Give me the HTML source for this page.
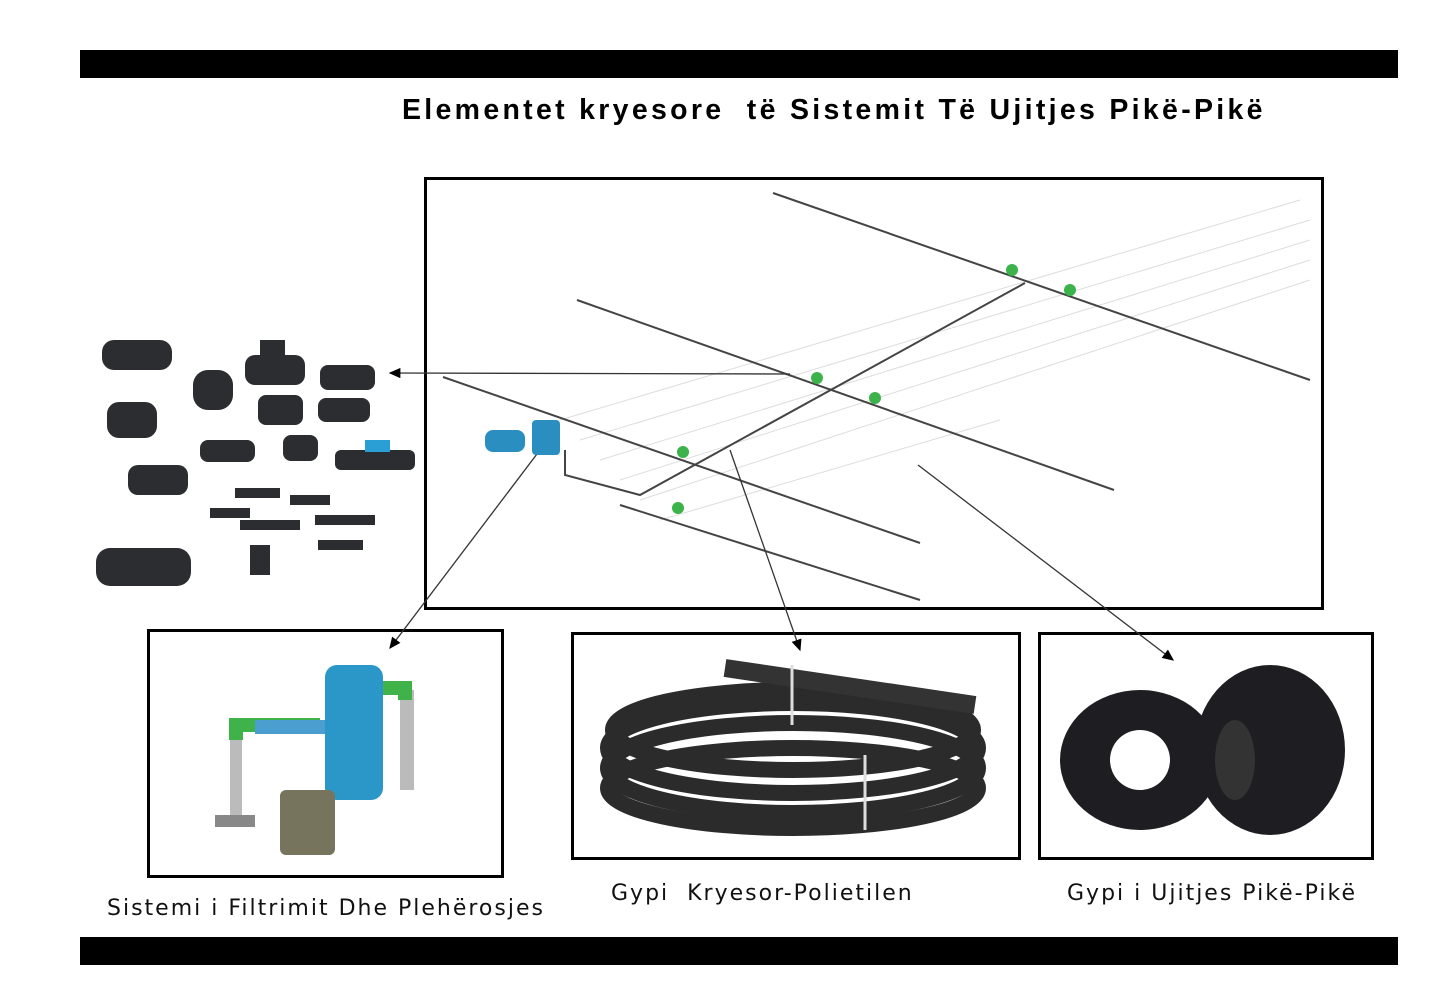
<!DOCTYPE html>
<html><head><meta charset="utf-8"><style>
body{margin:0;background:#fff;width:1451px;height:999px;overflow:hidden;position:relative;font-family:"Liberation Sans",sans-serif}
.bar{position:absolute;left:80px;width:1318px;height:28px;background:#000}
.box{position:absolute;border:3px solid #000;box-sizing:border-box;background:#fff}
.lbl{position:absolute;font-size:22px;color:#111;letter-spacing:2px;font-family:"DejaVu Sans","Liberation Sans",sans-serif}
</style></head><body>
<div class="bar" style="top:50px"></div>
<div class="bar" style="top:937px"></div>
<div style="position:absolute;left:402px;top:94px;font-size:28.5px;font-weight:bold;letter-spacing:3.3px;white-space:nowrap">Elementet kryesore&nbsp; të Sistemit Të Ujitjes Pikë-Pikë</div>
<div class="box" style="left:424px;top:177px;width:900px;height:433px"></div>
<div class="box" style="left:147px;top:629px;width:357px;height:249px"></div>
<div class="box" style="left:571px;top:632px;width:450px;height:228px"></div>
<div class="box" style="left:1038px;top:632px;width:336px;height:228px"></div>
<div class="lbl" style="left:107px;top:896px">Sistemi i Filtrimit Dhe Plehërosjes</div>
<div class="lbl" style="left:611px;top:881px">Gypi&nbsp; Kryesor-Polietilen</div>
<div class="lbl" style="left:1067px;top:881px">Gypi i Ujitjes Pikë-Pikë</div>
<svg width="1451" height="999" style="position:absolute;left:0;top:0">
<defs><marker id="a" markerWidth="10" markerHeight="10" refX="8" refY="4" orient="auto"><path d="M0,0 L9,4 L0,8 Z" fill="#000"/></marker></defs>
<g stroke="#ddd" stroke-width="1">
<path d="M560,420 L1300,200 M580,440 L1310,220 M600,460 L1310,240 M620,480 L1310,260 M640,500 L1310,280 M660,520 L1000,420"/>
</g>
<g stroke="#444" stroke-width="2" fill="none">
<path d="M773,193 L1310,380"/>
<path d="M577,300 L1114,490"/>
<path d="M443,377 L920,543"/>
<path d="M620,505 L920,600"/>
<path d="M565,450 L565,475 L640,495 L1025,283"/>
</g>
<g stroke="#333" stroke-width="1.3" fill="none">
<path d="M790,374 L390,373" marker-end="url(#a)"/>
<path d="M540,450 L390,648" marker-end="url(#a)"/>
<path d="M730,450 L800,650" marker-end="url(#a)"/>
<path d="M918,465 L1173,660" marker-end="url(#a)"/>
</g>
<g fill="#3bb34a"><circle cx="1012" cy="270" r="6"/><circle cx="1070" cy="290" r="6"/><circle cx="817" cy="378" r="6"/><circle cx="875" cy="398" r="6"/><circle cx="683" cy="452" r="6"/><circle cx="678" cy="508" r="6"/></g>
<g fill="#2a8fc0"><rect x="485" y="430" width="40" height="22" rx="8"/><rect x="532" y="420" width="28" height="35" rx="4"/></g>
<g fill="#2b2d30">
<rect x="102" y="340" width="70" height="30" rx="12"/><rect x="193" y="370" width="40" height="40" rx="15"/><rect x="245" y="355" width="60" height="30" rx="10"/><rect x="260" y="340" width="25" height="20"/><rect x="320" y="365" width="55" height="25" rx="8"/>
<rect x="107" y="402" width="50" height="36" rx="12"/><rect x="258" y="395" width="45" height="30" rx="8"/><rect x="318" y="398" width="52" height="24" rx="8"/>
<rect x="200" y="440" width="55" height="22" rx="8"/><rect x="283" y="435" width="35" height="26" rx="8"/><rect x="335" y="450" width="80" height="20" rx="6"/>
<rect x="128" y="465" width="60" height="30" rx="10"/>
<rect x="235" y="488" width="45" height="10"/><rect x="290" y="495" width="40" height="10"/><rect x="210" y="508" width="40" height="10"/><rect x="315" y="515" width="60" height="10"/><rect x="240" y="520" width="60" height="10"/><rect x="250" y="545" width="20" height="30"/><rect x="318" y="540" width="45" height="10"/>
<rect x="96" y="548" width="95" height="38" rx="14"/>
</g>
<rect x="365" y="440" width="25" height="12" fill="#2a9fd6"/>
<g>
<rect x="230" y="740" width="12" height="80" fill="#bbb"/><rect x="215" y="815" width="40" height="12" fill="#888"/>
<rect x="400" y="690" width="14" height="100" fill="#bbb"/>
<path d="M236,740 L236,725 L320,725" stroke="#3fb24a" stroke-width="14" fill="none"/>
<path d="M380,688 L405,688 L405,700" stroke="#3fb24a" stroke-width="14" fill="none"/>
<rect x="325" y="665" width="58" height="135" rx="12" fill="#2b97c8"/>
<rect x="255" y="720" width="70" height="14" fill="#4a9fd0"/>
<rect x="280" y="790" width="55" height="65" rx="6" fill="#77745e"/>
</g>
<g fill="none" stroke="#2b2b2b" stroke-width="16">
<ellipse cx="793" cy="730" rx="180" ry="40"/><ellipse cx="793" cy="748" rx="185" ry="45"/><ellipse cx="793" cy="768" rx="185" ry="45"/><ellipse cx="793" cy="788" rx="185" ry="40"/>
</g>
<path d="M725,668 L975,705" stroke="#333" stroke-width="18"/>
<line x1="792" y1="665" x2="792" y2="725" stroke="#ddd" stroke-width="3"/>
<line x1="865" y1="755" x2="865" y2="830" stroke="#ddd" stroke-width="3"/>
<g fill="#1d1d22">
<ellipse cx="1140" cy="760" rx="80" ry="70"/><ellipse cx="1270" cy="750" rx="75" ry="85"/>
</g>
<ellipse cx="1140" cy="760" rx="30" ry="30" fill="#fff"/>
<ellipse cx="1235" cy="760" rx="20" ry="40" fill="#333"/>
</svg>
</body></html>
